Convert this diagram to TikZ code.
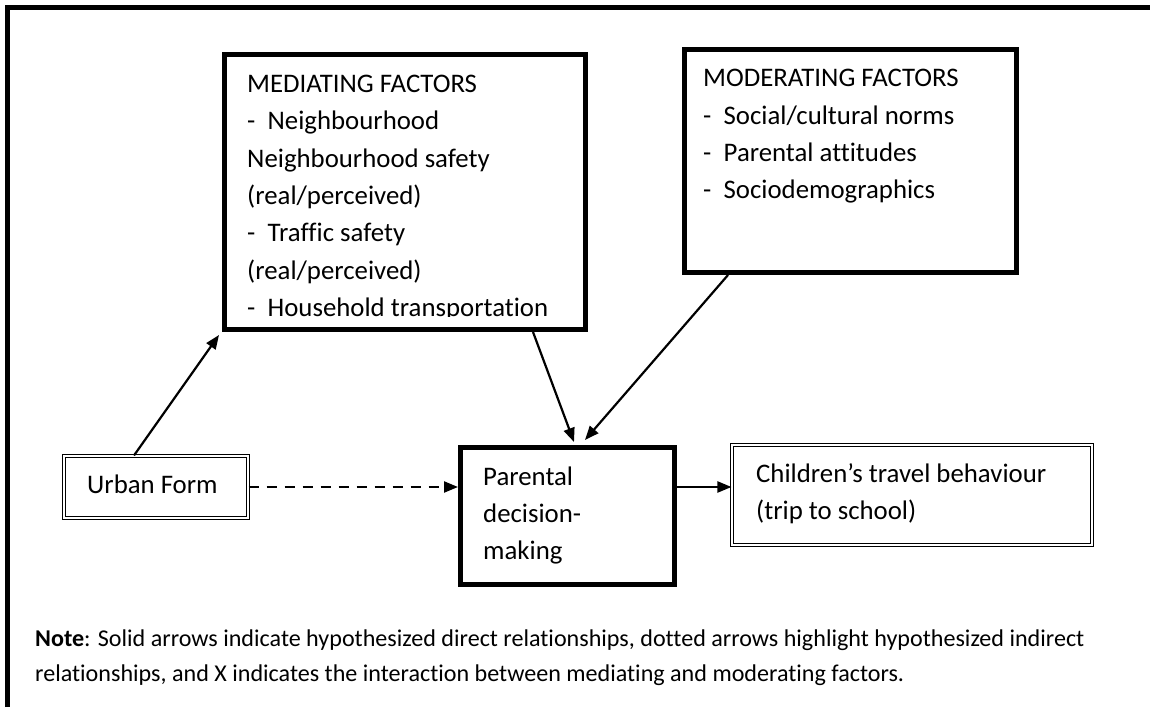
\documentclass[tikz,border=0pt]{standalone}
\usepackage{fontspec}
\setmainfont{Carlito}[Ligatures=NoCommon]
\usetikzlibrary{arrows.meta}

\newcommand{\boxfont}{\fontsize{26.8}{37.4}\selectfont}
\newcommand{\notefont}{\fontsize{24.1}{35}\selectfont}
\newcommand{\itemdash}{\makebox[20.5pt][l]{-}}

\begin{document}
\begin{tikzpicture}[x=1pt, y=1pt,
  factorbox/.style={draw, line width=5pt, inner sep=0pt},
  doublebox/.style={draw, double, double distance=1.6pt, line width=1.1pt, inner sep=0pt},
  boxtext/.style={anchor=base west, inner sep=0pt},
  arr/.style={line width=2.2pt, -{Triangle[length=14pt, width=11pt]}}]

\useasboundingbox (0,0) rectangle (1150,707);
\draw[line width=5pt] (7.5,0) -- (7.5,699.5) -- (1150,699.5);

\node[factorbox, minimum width=361pt, minimum height=275pt] (med) at (405,515) {};
\node[factorbox, minimum width=332pt, minimum height=223pt] (mod) at (850.5,546) {};
\node[factorbox, minimum width=214pt, minimum height=137pt] (par) at (567.5,191) {};
\node[doublebox, minimum width=184pt, minimum height=62pt] (urban) at (156,220) {};
\node[doublebox, minimum width=360pt, minimum height=100pt] (child) at (912,212) {};

% last line is cut by the box edge
\begin{scope}
  \clip (224,390) rectangle (586,652);
  \node[boxtext] (medtext) at (247,614.7) {\parbox[t]{330pt}{\boxfont
    MEDIATING FACTORS\\
    \itemdash Neighbourhood\\
    Neighbourhood safety\\
    (real/perceived)\\
    \itemdash Traffic safety\\
    (real/perceived)\\
    \itemdash Household transportation}};
\end{scope}

\node[boxtext] (modtext) at (703,620.3) {\parbox[t]{300pt}{\boxfont
  MODERATING FACTORS\\
  \itemdash Social/cultural norms\\
  \itemdash Parental attitudes\\
  \itemdash Sociodemographics}};
\node[boxtext] (partext) at (483,222) {\parbox[t]{180pt}{\boxfont
  Parental\\
  decision-\\
  making}};
\node[boxtext] (childtext) at (756,225) {\parbox[t]{330pt}{\boxfont
  Children’s travel behaviour\\
  (trip to school)}};
\node[boxtext, font=\boxfont] (urbantext) at (87,214) {Urban Form};

\draw[arr] ([xshift=-22pt]urban.north) -- ([xshift=-3pt,yshift=-3pt]med.south west);
\draw[arr, dash pattern=on 10pt off 8pt] (urban.east) -- (urban.east -| par.west);
\draw[arr] ([xshift=128pt]med.south) -- ([xshift=6.5pt,yshift=3pt]par.north);
\draw[arr] ([xshift=-122.5pt]mod.south) -- ([xshift=17.5pt,yshift=5pt]par.north);
\draw[arr] (par.east |- urban.east) -- (child.west |- urban.east);

\node[boxtext] (note) at (35,60.3) {\parbox[t]{1100pt}{\notefont
  \textbf{Note}: Solid arrows indicate hypothesized direct relationships, dotted arrows highlight hypothesized indirect\\
  relationships, and X indicates the interaction between mediating and moderating factors.}};

\end{tikzpicture}
\end{document}
